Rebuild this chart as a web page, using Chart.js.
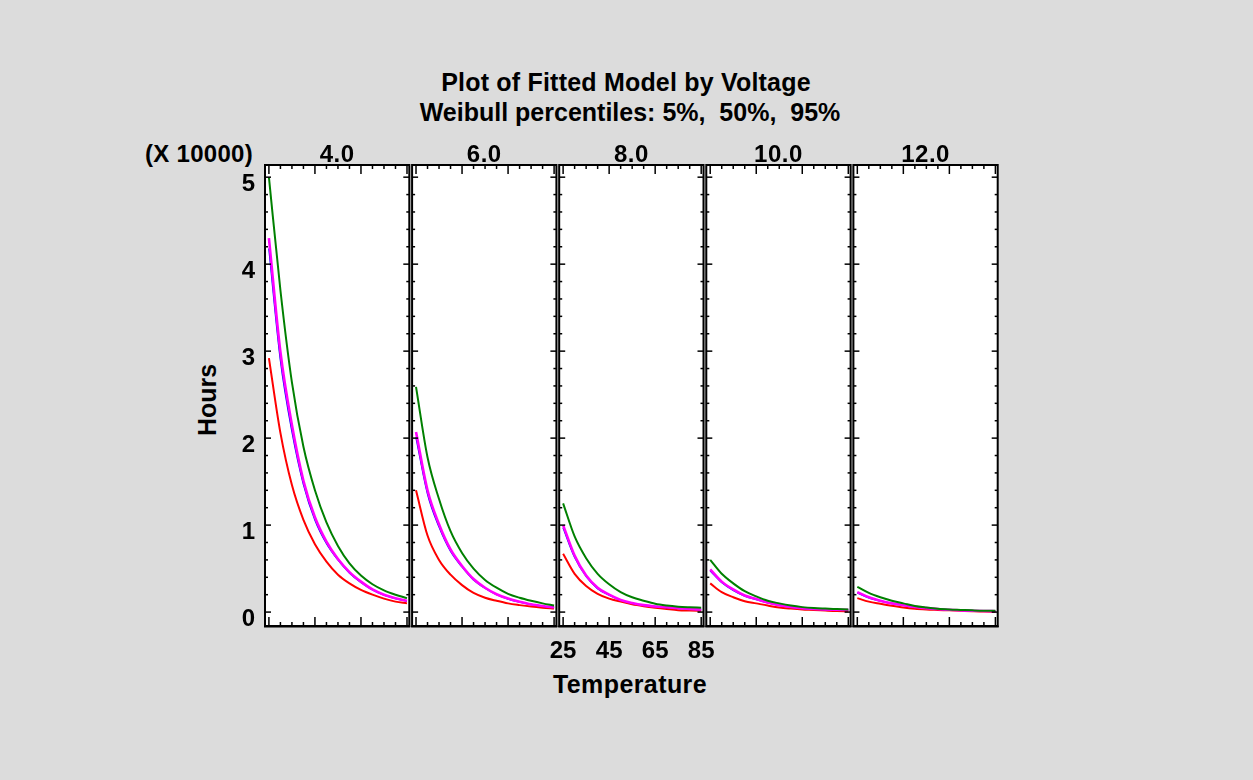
<!DOCTYPE html>
<html>
<head>
<meta charset="utf-8">
<script src="https://cdn.jsdelivr.net/npm/chart.js@4.4.1/dist/chart.umd.min.js"></script>
<style>
html,body{margin:0;padding:0;background:#dcdcdc;}
#page{position:relative;width:1253px;height:780px;background:#dcdcdc;overflow:hidden;
  font-family:"Liberation Sans",Arial,sans-serif;font-weight:bold;color:#000;}
.lbl{position:absolute;white-space:nowrap;line-height:1;font-size:24px;transform:translate(-50%,-50%);}
.big{font-size:25px;}
canvas.panel{position:absolute;left:0;top:0;}
</style>
</head>
<body>
<div id="page">
  <div class="lbl big" style="left:626px;top:82px;letter-spacing:0.2px;">Plot of Fitted Model by Voltage</div>
  <div class="lbl big" style="left:630px;top:112px;">Weibull percentiles: 5%,&nbsp; 50%,&nbsp; 95%</div>
  <div class="lbl" style="left:199px;top:154px;letter-spacing:0.3px;">(X 10000)</div>
  <div class="lbl big" style="left:207px;top:400px;transform:translate(-50%,-50%) rotate(-90deg);">Hours</div>
  <div class="lbl big" style="left:630px;top:684px;letter-spacing:0.4px;">Temperature</div>
  <div id="panelLabels"></div>
</div>
<script>
// ---- data (hours in units of 10000) ----
const temperatures = [25, 30, 35, 40, 45, 50, 55, 60, 65, 70, 75, 80, 85];
const voltages = ['4.0', '6.0', '8.0', '10.0', '12.0'];

// 95th percentile (green)
const p95 = [
  [5.00, 3.70, 2.64, 1.90, 1.40, 1.03, 0.76, 0.56, 0.42, 0.32, 0.25, 0.20, 0.16],
  [2.59, 1.78, 1.30, 0.93, 0.68, 0.50, 0.37, 0.28, 0.21, 0.165, 0.13, 0.10, 0.075],
  [1.25, 0.87, 0.62, 0.44, 0.32, 0.23, 0.17, 0.13, 0.095, 0.075, 0.062, 0.055, 0.05],
  [0.60, 0.44, 0.33, 0.24, 0.18, 0.13, 0.10, 0.075, 0.057, 0.046, 0.04, 0.035, 0.03],
  [0.29, 0.22, 0.17, 0.13, 0.10, 0.07, 0.052, 0.038, 0.03, 0.025, 0.02, 0.016, 0.015]
];
// 50th percentile (magenta)
const p50 = [
  [4.30, 2.99, 2.15, 1.51, 1.09, 0.81, 0.61, 0.46, 0.35, 0.26, 0.20, 0.16, 0.13],
  [2.07, 1.40, 1.01, 0.72, 0.53, 0.38, 0.28, 0.205, 0.155, 0.12, 0.09, 0.07, 0.055],
  [1.00, 0.65, 0.42, 0.28, 0.20, 0.14, 0.105, 0.08, 0.065, 0.055, 0.045, 0.035, 0.03],
  [0.49, 0.35, 0.26, 0.19, 0.15, 0.11, 0.08, 0.06, 0.045, 0.036, 0.03, 0.027, 0.025],
  [0.23, 0.17, 0.13, 0.10, 0.08, 0.06, 0.045, 0.035, 0.026, 0.02, 0.015, 0.012, 0.01]
];
// fitted median (blue, mostly hidden under magenta)
const pFit = [
  [4.18, 2.90, 2.08, 1.47, 1.06, 0.79, 0.60, 0.45, 0.34, 0.255, 0.195, 0.155, 0.125],
  [2.01, 1.36, 0.98, 0.70, 0.52, 0.37, 0.275, 0.20, 0.15, 0.115, 0.088, 0.068, 0.053],
  [0.97, 0.63, 0.41, 0.27, 0.195, 0.137, 0.10, 0.078, 0.063, 0.053, 0.044, 0.034, 0.03],
  [0.475, 0.34, 0.25, 0.185, 0.145, 0.107, 0.078, 0.058, 0.044, 0.035, 0.03, 0.026, 0.024],
  [0.222, 0.165, 0.127, 0.098, 0.078, 0.058, 0.044, 0.034, 0.025, 0.02, 0.015, 0.012, 0.01]
];
// 5th percentile (red)
const p05 = [
  [2.92, 2.06, 1.46, 1.06, 0.78, 0.58, 0.43, 0.33, 0.255, 0.20, 0.155, 0.12, 0.10],
  [1.40, 0.88, 0.60, 0.43, 0.31, 0.22, 0.165, 0.13, 0.10, 0.08, 0.063, 0.05, 0.04],
  [0.67, 0.44, 0.30, 0.21, 0.155, 0.12, 0.09, 0.068, 0.05, 0.035, 0.022, 0.018, 0.015],
  [0.33, 0.23, 0.17, 0.125, 0.10, 0.075, 0.053, 0.04, 0.03, 0.025, 0.018, 0.012, 0.01],
  [0.16, 0.12, 0.095, 0.072, 0.052, 0.038, 0.03, 0.025, 0.02, 0.015, 0.01, 0.006, 0.005]
];

const yTickLabels = ['0', '1', '2', '3', '4', '5'];
const xTickLabels = ['25', '45', '65', '85'];

// ---- layout ----
const PAGE_W = 1253, PAGE_H = 780;
const PANEL_LEFT0 = 265, PANEL_PITCH = 147.1, PANEL_W = 144.3;
const PLOT_TOP = 165, PLOT_BOTTOM = 626;
const X_MIN = 23.3, X_MAX = 86.0, Y_MIN = -0.16, Y_MAX = 5.14;
const FONT = 'bold 24px "Liberation Sans", Arial, sans-serif';

function seg(ctx, x1, y1, x2, y2) { ctx.beginPath(); ctx.moveTo(x1, y1); ctx.lineTo(x2, y2); ctx.stroke(); }

const framePlugin = {
  id: 'frame',
  beforeDatasetsDraw(chart) {
    const { ctx, chartArea: a } = chart;
    ctx.save();
    ctx.fillStyle = '#ffffff';
    ctx.fillRect(a.left, a.top, a.right - a.left, a.bottom - a.top);
    ctx.restore();
  },
  afterDatasetsDraw(chart, args, opts) {
    const { ctx, chartArea: a } = chart;
    const xs = chart.scales.x, ys = chart.scales.y;
    ctx.save();
    ctx.strokeStyle = '#000';
    ctx.lineWidth = 2;
    ctx.strokeRect(a.left, a.top, a.right - a.left, a.bottom - a.top);
    seg(ctx, a.left - 1, a.bottom + 0.5, a.right + 1, a.bottom + 0.5);
    // temperature ticks (inside, top and bottom)
    ctx.lineWidth = 1.5;
    const first = parseFloat(xTickLabels[0]), last = parseFloat(xTickLabels[xTickLabels.length - 1]);
    const majorStep = parseFloat(xTickLabels[1]) - first;
    for (let t = first; t <= last + 1e-9; t += majorStep / 4) {
      const px = xs.getPixelForValue(t);
      const r = (t - first) / majorStep;
      const major = Math.abs(r - Math.round(r)) < 1e-6;
      const len = major ? 9 : 4;
      seg(ctx, px, a.bottom, px, a.bottom - len);
      seg(ctx, px, a.top, px, a.top + len);
    }
    // hours ticks (inside, left and right)
    for (let k = 0; k <= 25; k++) {
      const py = ys.getPixelForValue(k * 0.2);
      const len = (k % 5 === 0) ? 6 : 3;
      seg(ctx, a.left, py, a.left + len, py);
      seg(ctx, a.right, py, a.right - len, py);
    }
    ctx.fillStyle = '#000';
    ctx.font = FONT;
    if (opts.yLabels) {
      ctx.textAlign = 'right';
      ctx.textBaseline = 'alphabetic';
      yTickLabels.forEach(l => {
        const py = ys.getPixelForValue(parseFloat(l));
        ctx.fillText(l, a.left - 10, py + 14);
      });
    }
    if (opts.xLabels) {
      ctx.textAlign = 'center';
      ctx.textBaseline = 'alphabetic';
      xTickLabels.forEach(l => {
        const px = xs.getPixelForValue(parseFloat(l));
        ctx.fillText(l, px, a.bottom + 32);
      });
    }
    ctx.restore();
  }
};

function series(vals, color, width, order) {
  return {
    data: temperatures.map((t, i) => ({ x: t, y: vals[i] })),
    borderColor: color,
    borderWidth: width,
    pointRadius: 0,
    fill: false,
    cubicInterpolationMode: 'monotone',
    order: order
  };
}

const page = document.getElementById('page');
const labelHost = document.getElementById('panelLabels');
voltages.forEach((v, i) => {
  const left = PANEL_LEFT0 + i * PANEL_PITCH;
  const canvas = document.createElement('canvas');
  canvas.className = 'panel';
  canvas.width = PAGE_W; canvas.height = PAGE_H;
  page.insertBefore(canvas, labelHost);

  const lbl = document.createElement('div');
  lbl.className = 'lbl';
  lbl.style.left = (left + PANEL_W / 2) + 'px';
  lbl.style.top = '154px';
  lbl.style.letterSpacing = '0.5px';
  lbl.textContent = v;
  labelHost.appendChild(lbl);

  new Chart(canvas.getContext('2d'), {
    type: 'line',
    data: {
      datasets: [
        series(p95[i], '#008000', 2, 0),
        series(p50[i], '#ff00ff', 2.6, 1),
        series(pFit[i], '#0000ff', 1.5, 2),
        series(p05[i], '#ff0000', 2, 3)
      ]
    },
    options: {
      responsive: false,
      animation: false,
      devicePixelRatio: 1,
      layout: { padding: { left: left, right: PAGE_W - left - PANEL_W, top: PLOT_TOP, bottom: PAGE_H - PLOT_BOTTOM } },
      scales: {
        x: { type: 'linear', min: X_MIN, max: X_MAX, display: false },
        y: { type: 'linear', min: Y_MIN, max: Y_MAX, display: false }
      },
      plugins: {
        legend: { display: false },
        tooltip: { enabled: false },
        frame: { yLabels: i === 0, xLabels: i === 2 }
      }
    },
    plugins: [framePlugin]
  });
});
</script>
</body>
</html>
